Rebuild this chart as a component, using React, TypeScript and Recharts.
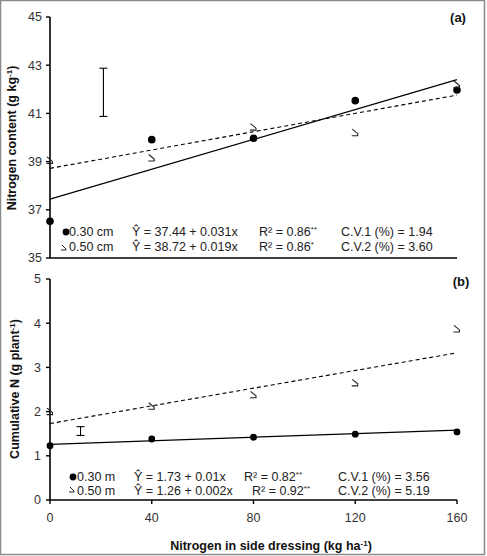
import React from "react";
import {
  ComposedChart,
  Line,
  Scatter,
  XAxis,
  YAxis,
  ErrorBar,
} from "recharts";

// Nitrogen rates applied in side dressing (kg ha-1)
const nitrogenRates = [0, 40, 80, 120, 160];
const rateTicks = [0, 40, 80, 120, 160];

// Panel (a): nitrogen content in leaves (g kg-1)
const contentSpacing30 = [36.52, 39.91, 39.97, 41.53, 41.97];
const contentSpacing50 = [39.05, 39.15, 40.43, 40.2, 42.2];
const contentTicks = [35, 37, 39, 41, 43, 45];
// fitted equations printed on panel (a): [intercept, slope]
const contentFit30 = [37.44, 0.031];
const contentFit50 = [38.72, 0.019];
// least significant difference bar (a): [x, centre, half-length]
const contentLsd = [21, 41.875, 1.0];

// Panel (b): cumulative N (g plant-1)
const cumulativeSpacing30 = [1.23, 1.38, 1.42, 1.49, 1.54];
const cumulativeSpacing50 = [2.0, 2.12, 2.38, 2.65, 3.87];
const cumulativeTicks = [0, 1, 2, 3, 4, 5];
const cumulativeFitDashed = [1.73, 0.01];
const cumulativeFitSolid = [1.26, 0.002];
const cumulativeLsd = [12, 1.56, 0.1];

const FONT = "'Liberation Sans', Arial, sans-serif";

const points = (ys: number[]) => nitrogenRates.map((x, i) => ({ x, y: ys[i] }));
const fitLine = (fit: number[]) =>
  [nitrogenRates[0], nitrogenRates[nitrogenRates.length - 1]].map((x) => ({
    x,
    y: fit[0] + fit[1] * x,
  }));
const lsdPoint = (lsd: number[]) => [{ x: lsd[0], y: lsd[1], err: lsd[2] }];

const Dot = (r: number) => (props: any) => (
  <circle cx={props.cx} cy={props.cy} r={r} fill="#000" />
);

const Hook = (props: any) => {
  const { cx, cy } = props;
  return (
    <path
      d={`M${cx - 3},${cy - 3.5} L${cx + 2.5},${cy + 1} L${cx + 2.5},${cy + 3} L${cx - 3.5},${cy + 3}`}
      fill="none"
      stroke="#222"
      strokeWidth={1.1}
    />
  );
};

const Blank = () => <g />;

const tickStyle = { fontSize: 12.5, fill: "#333", fontFamily: FONT };

export default function App() {
  const W = 487;
  return (
    <div
      style={{
        position: "absolute",
        left: 0,
        top: 0,
        width: W,
        height: 556,
        background: "#fff",
        fontFamily: FONT,
      }}
    >
      {/* panel (a) */}
      <div style={{ position: "absolute", left: 0, top: 0 }}>
        <ComposedChart
          width={W}
          height={270}
          margin={{ top: 17, right: 30, left: 10, bottom: 7 }}
        >
          <XAxis
            type="number"
            dataKey="x"
            domain={[0, 160]}
            ticks={rateTicks}
            tick={false}
            tickSize={4}
            height={5}
            axisLine={{ stroke: "#000", strokeWidth: 1.6 }}
            tickLine={{ stroke: "#000", strokeWidth: 1.4 }}
          />
          <YAxis
            type="number"
            dataKey="y"
            domain={[35, 45]}
            ticks={contentTicks}
            width={40}
            tickSize={4}
            tickMargin={4}
            tick={tickStyle}
            axisLine={{ stroke: "#000", strokeWidth: 1.6 }}
            tickLine={{ stroke: "#000", strokeWidth: 1.4 }}
          />
          <Line
            data={fitLine(contentFit30)}
            dataKey="y"
            stroke="#000"
            strokeWidth={1.2}
            dot={false}
            isAnimationActive={false}
          />
          <Line
            data={fitLine(contentFit50)}
            dataKey="y"
            stroke="#000"
            strokeWidth={1.1}
            strokeDasharray="4 3"
            dot={false}
            isAnimationActive={false}
          />
          <Scatter
            data={points(contentSpacing30)}
            dataKey="y"
            shape={Dot(3.8)}
            isAnimationActive={false}
          />
          <Scatter
            data={points(contentSpacing50)}
            dataKey="y"
            shape={Hook}
            isAnimationActive={false}
          />
          <Scatter
            data={lsdPoint(contentLsd)}
            dataKey="y"
            shape={Blank}
            isAnimationActive={false}
          >
            <ErrorBar
              dataKey="err"
              direction="y"
              width={4}
              stroke="#000"
              strokeWidth={1.1}
              isAnimationActive={false}
            />
          </Scatter>
        </ComposedChart>
      </div>

      {/* panel (b) */}
      <div style={{ position: "absolute", left: 0, top: 270 }}>
        <ComposedChart
          width={W}
          height={286}
          margin={{ top: 9, right: 30, left: 10, bottom: 26 }}
        >
          <XAxis
            type="number"
            dataKey="x"
            domain={[0, 160]}
            ticks={rateTicks}
            tickSize={4}
            tickMargin={9}
            height={30}
            tick={tickStyle}
            axisLine={{ stroke: "#000", strokeWidth: 1.6 }}
            tickLine={{ stroke: "#000", strokeWidth: 1.4 }}
          />
          <YAxis
            type="number"
            dataKey="y"
            domain={[0, 5]}
            ticks={cumulativeTicks}
            width={40}
            tickSize={4}
            tickMargin={5}
            tick={tickStyle}
            axisLine={{ stroke: "#000", strokeWidth: 1.6 }}
            tickLine={{ stroke: "#000", strokeWidth: 1.4 }}
          />
          <Line
            data={fitLine(cumulativeFitSolid)}
            dataKey="y"
            stroke="#000"
            strokeWidth={1.2}
            dot={false}
            isAnimationActive={false}
          />
          <Line
            data={fitLine(cumulativeFitDashed)}
            dataKey="y"
            stroke="#000"
            strokeWidth={1.1}
            strokeDasharray="4 3"
            dot={false}
            isAnimationActive={false}
          />
          <Scatter
            data={points(cumulativeSpacing30)}
            dataKey="y"
            shape={Dot(3.4)}
            isAnimationActive={false}
          />
          <Scatter
            data={points(cumulativeSpacing50)}
            dataKey="y"
            shape={Hook}
            isAnimationActive={false}
          />
          <Scatter
            data={lsdPoint(cumulativeLsd)}
            dataKey="y"
            shape={Blank}
            isAnimationActive={false}
          >
            <ErrorBar
              dataKey="err"
              direction="y"
              width={4}
              stroke="#000"
              strokeWidth={1.1}
              isAnimationActive={false}
            />
          </Scatter>
        </ComposedChart>
      </div>

      {/* frame, titles and equation legends */}
      <svg
        width={W}
        height={556}
        style={{ position: "absolute", left: 0, top: 0, pointerEvents: "none" }}
        fontFamily={FONT}
      >
        <rect x={0.5} y={0.5} width={484} height={554} fill="none" stroke="#8a8a8a" strokeWidth={1.5} />

        <text x={458} y={22} fontSize={13} fontWeight="bold" textAnchor="middle" fill="#111">(a)</text>
        <text x={461} y={286} fontSize={13} fontWeight="bold" textAnchor="middle" fill="#111">(b)</text>

        <text
          transform="translate(16,138) rotate(-90)"
          fontSize={12.5}
          fontWeight="bold"
          textAnchor="middle"
          fill="#111"
        >
          Nitrogen content (g kg<tspan dy={-4} fontSize={8}>-1</tspan><tspan dy={4}>)</tspan>
        </text>
        <text
          transform="translate(19,389) rotate(-90)"
          fontSize={12.5}
          fontWeight="bold"
          textAnchor="middle"
          fill="#111"
        >
          Cumulative N (g plant<tspan dy={-4} fontSize={8}>-1</tspan><tspan dy={4}>)</tspan>
        </text>
        <text x={271} y={550} fontSize={12.5} fontWeight="bold" textAnchor="middle" fill="#111">
          Nitrogen in side dressing (kg ha<tspan dy={-4} fontSize={8}>-1</tspan><tspan dy={4}>)</tspan>
        </text>

        {/* panel (a) legend */}
        <g fontSize={12.5} fill="#222">
          <circle cx={66} cy={232} r={3.4} fill="#000" />
          <text x={69} y={236}>0.30 cm</text>
          <text x={132} y={236}>Ŷ = 37.44 + 0.031x</text>
          <text x={259} y={236}>R² = 0.86<tspan dy={-4} fontSize={8}>**</tspan></text>
          <text x={341} y={236}>C.V.1 (%) = 1.94</text>

          <path d="M62,245 L66,249 L66,250 L61,250" fill="none" stroke="#222" strokeWidth={1} />
          <text x={69} y={251}>0.50 cm</text>
          <text x={132} y={251}>Ŷ = 38.72 + 0.019x</text>
          <text x={259} y={251}>R² = 0.86<tspan dy={-4} fontSize={8}>*</tspan></text>
          <text x={341} y={251}>C.V.2 (%) = 3.60</text>
        </g>

        {/* panel (b) legend */}
        <g fontSize={12.5} fill="#222">
          <circle cx={73} cy={477} r={3.4} fill="#000" />
          <text x={77} y={481}>0.30 m</text>
          <text x={134} y={481}>Ŷ = 1.73 + 0.01x</text>
          <text x={244} y={481}>R² = 0.82<tspan dy={-4} fontSize={8}>**</tspan></text>
          <text x={338} y={481}>C.V.1 (%) = 3.56</text>

          <path d="M70,487 L74,491 L74,492 L69,492" fill="none" stroke="#222" strokeWidth={1} />
          <text x={77} y={495}>0.50 m</text>
          <text x={134} y={495}>Ŷ = 1.26 + 0.002x</text>
          <text x={252} y={495}>R² = 0.92<tspan dy={-4} fontSize={8}>**</tspan></text>
          <text x={338} y={495}>C.V.2 (%) = 5.19</text>
        </g>
      </svg>
    </div>
  );
}
